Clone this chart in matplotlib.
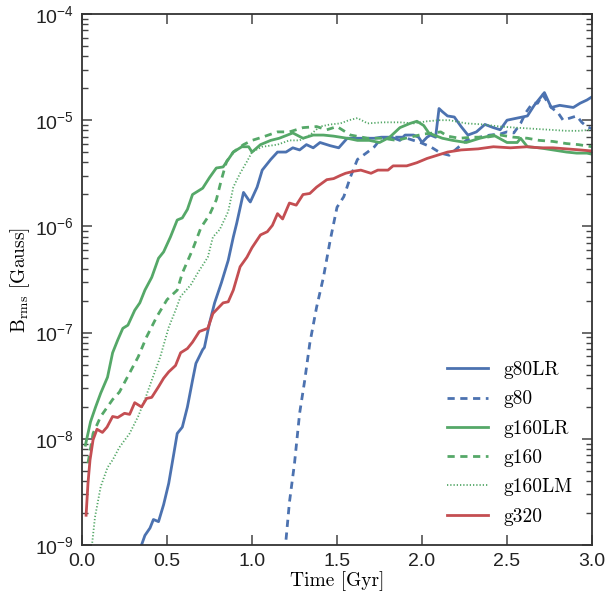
import numpy as np
import matplotlib
matplotlib.use("Agg")
import matplotlib.pyplot as plt

plt.rcParams["font.family"] = "Liberation Sans"
plt.rcParams["mathtext.fontset"] = "custom"
plt.rcParams["mathtext.rm"] = "Liberation Sans"
plt.rcParams["mathtext.it"] = "Liberation Sans:italic"
plt.rcParams["mathtext.bf"] = "Liberation Sans:bold"
plt.rcParams["axes.unicode_minus"] = False

# ------------------------------------------------------------
# Data (time in Gyr, log10 of B in Gauss)
# ------------------------------------------------------------
t_g80lr = [0.35, 0.37, 0.40, 0.42, 0.45, 0.48, 0.51, 0.54, 0.56, 0.59, 0.62,
           0.65, 0.67, 0.71, 0.72, 0.75, 0.78, 0.82, 0.86, 0.89, 0.91, 0.95,
           0.98, 0.99, 1.03, 1.06, 1.11, 1.15, 1.20, 1.24, 1.28, 1.32, 1.36,
           1.40, 1.46, 1.51, 1.56, 1.64, 1.72, 1.76, 1.82, 1.87, 1.90, 1.95,
           1.98, 2.00, 2.03, 2.05, 2.08, 2.10, 2.12, 2.15, 2.19, 2.23, 2.27,
           2.32, 2.37, 2.42, 2.46, 2.50, 2.56, 2.62, 2.66, 2.72, 2.76, 2.81,
           2.89, 2.93, 2.97, 3.00]
lb_g80lr = [-9.00, -8.91, -8.84, -8.76, -8.78, -8.62, -8.42, -8.14, -7.95, -7.89,
            -7.70, -7.45, -7.29, -7.16, -7.14, -6.91, -6.72, -6.53, -6.32, -6.10,
            -5.97, -5.68, -5.75, -5.77, -5.63, -5.47, -5.37, -5.30, -5.30, -5.26,
            -5.28, -5.23, -5.26, -5.21, -5.24, -5.26, -5.17, -5.17, -5.17, -5.16,
            -5.16, -5.19, -5.14, -5.14, -5.16, -5.21, -5.16, -5.14, -5.16, -4.89,
            -4.92, -4.96, -4.97, -5.06, -5.14, -5.11, -5.04, -5.07, -5.09, -5.00,
            -4.98, -4.96, -4.86, -4.74, -4.88, -4.86, -4.88, -4.84, -4.81, -4.78]

t_g80 = [1.20, 1.22, 1.25, 1.28, 1.31, 1.34, 1.38, 1.42, 1.46, 1.50, 1.54,
         1.58, 1.62, 1.68, 1.72, 1.75, 1.82, 1.89, 1.95, 1.99, 2.05, 2.11,
         2.16, 2.21, 2.26, 2.34, 2.40, 2.46, 2.50, 2.54, 2.58, 2.61, 2.65,
         2.68, 2.71, 2.76, 2.80, 2.83, 2.87, 2.91, 2.94, 2.97, 3.00]
lb_g80 = [-8.95, -8.60, -8.23, -7.76, -7.45, -7.10, -6.76, -6.48, -6.13, -5.82,
          -5.72, -5.53, -5.37, -5.30, -5.25, -5.19, -5.16, -5.16, -5.19, -5.21,
          -5.25, -5.31, -5.33, -5.26, -5.19, -5.16, -5.14, -5.13, -5.11, -5.12,
          -5.03, -4.93, -4.84, -4.84, -4.76, -4.88, -4.93, -5.00, -4.98, -4.96,
          -5.02, -5.06, -5.08]

t_g160lr = [0.02, 0.05, 0.08, 0.11, 0.15, 0.18, 0.21, 0.24, 0.27, 0.31, 0.34,
            0.37, 0.41, 0.45, 0.48, 0.52, 0.56, 0.59, 0.62, 0.65, 0.71, 0.75,
            0.79, 0.83, 0.89, 0.94, 0.98, 1.00, 1.05, 1.11, 1.16, 1.24, 1.30,
            1.36, 1.42, 1.48, 1.56, 1.62, 1.69, 1.75, 1.81, 1.87, 1.93, 1.97,
            2.01, 2.04, 2.07, 2.12, 2.18, 2.26, 2.34, 2.42, 2.50, 2.56, 2.58,
            2.62, 2.69, 2.77, 2.85, 2.91, 2.97, 3.00]
lb_g160lr = [-8.06, -7.84, -7.70, -7.57, -7.42, -7.19, -7.07, -6.96, -6.93, -6.79,
             -6.72, -6.60, -6.48, -6.30, -6.24, -6.10, -5.94, -5.92, -5.84, -5.70,
             -5.64, -5.54, -5.45, -5.44, -5.30, -5.25, -5.25, -5.30, -5.23, -5.19,
             -5.17, -5.12, -5.17, -5.14, -5.14, -5.15, -5.17, -5.19, -5.19, -5.21,
             -5.16, -5.07, -5.03, -5.01, -5.05, -5.12, -5.14, -5.17, -5.19, -5.21,
             -5.17, -5.14, -5.21, -5.21, -5.17, -5.25, -5.26, -5.28, -5.30, -5.31,
             -5.31, -5.32]

t_g160 = [0.035, 0.065, 0.11, 0.18, 0.22, 0.28, 0.33, 0.38, 0.44, 0.50, 0.56,
          0.59, 0.65, 0.70, 0.75, 0.79, 0.82, 0.85, 0.89, 0.95, 1.00, 1.06,
          1.15, 1.22, 1.30, 1.38, 1.44, 1.50, 1.58, 1.68, 1.77, 1.85, 1.93,
          2.01, 2.07, 2.11, 2.15, 2.22, 2.30, 2.38, 2.46, 2.54, 2.62, 2.69,
          2.77, 2.85, 2.92, 3.00]
lb_g160 = [-8.23, -7.95, -7.79, -7.63, -7.56, -7.38, -7.23, -7.04, -6.85, -6.69,
           -6.60, -6.44, -6.22, -6.01, -5.89, -5.75, -5.56, -5.39, -5.30, -5.23,
           -5.19, -5.16, -5.11, -5.11, -5.07, -5.06, -5.09, -5.06, -5.14, -5.17,
           -5.17, -5.19, -5.16, -5.13, -5.12, -5.11, -5.15, -5.17, -5.16, -5.16,
           -5.14, -5.16, -5.17, -5.19, -5.20, -5.22, -5.23, -5.25]

t_g160lm = [0.06, 0.076, 0.11, 0.15, 0.18, 0.22, 0.28, 0.33, 0.37, 0.41, 0.46,
            0.51, 0.55, 0.58, 0.64, 0.68, 0.74, 0.77, 0.81, 0.86, 0.89, 0.93,
            0.97, 1.00, 1.06, 1.15, 1.22, 1.28, 1.34, 1.40, 1.46, 1.52, 1.57,
            1.62, 1.68, 1.77, 1.87, 1.95, 2.03, 2.10, 2.16, 2.26, 2.36, 2.46,
            2.55, 2.65, 2.75, 2.85, 2.92, 3.00]
lb_g160lm = [-8.98, -8.74, -8.45, -8.27, -8.20, -8.08, -7.95, -7.79, -7.63, -7.45,
             -7.23, -6.95, -6.79, -6.66, -6.55, -6.44, -6.29, -6.10, -6.03, -5.86,
             -5.63, -5.50, -5.39, -5.30, -5.25, -5.23, -5.19, -5.19, -5.14, -5.06,
             -5.04, -5.03, -5.00, -4.98, -5.03, -5.02, -5.02, -5.03, -5.01, -5.00,
             -5.00, -5.03, -5.04, -5.06, -5.07, -5.08, -5.09, -5.10, -5.10, -5.09]

t_g320 = [0.024, 0.035, 0.047, 0.065, 0.088, 0.12, 0.147, 0.18, 0.21, 0.25,
          0.28, 0.31, 0.35, 0.38, 0.41, 0.45, 0.48, 0.51, 0.55, 0.58, 0.62,
          0.65, 0.69, 0.74, 0.77, 0.83, 0.86, 0.89, 0.93, 0.97, 1.00, 1.05,
          1.09, 1.12, 1.15, 1.18, 1.22, 1.26, 1.30, 1.34, 1.38, 1.44, 1.48,
          1.52, 1.55, 1.60, 1.64, 1.70, 1.74, 1.80, 1.83, 1.91, 1.97, 2.03,
          2.09, 2.15, 2.23, 2.33, 2.42, 2.52, 2.62, 2.69, 2.77, 2.85, 2.93,
          3.00]
lb_g320 = [-8.72, -8.42, -8.20, -8.01, -7.91, -7.94, -7.89, -7.79, -7.80, -7.76,
           -7.77, -7.66, -7.70, -7.62, -7.61, -7.51, -7.43, -7.37, -7.31, -7.19,
           -7.15, -7.09, -6.99, -6.96, -6.82, -6.72, -6.71, -6.60, -6.38, -6.29,
           -6.20, -6.08, -6.05, -5.99, -5.88, -5.93, -5.78, -5.80, -5.70, -5.69,
           -5.63, -5.56, -5.55, -5.52, -5.50, -5.48, -5.47, -5.50, -5.47, -5.47,
           -5.43, -5.43, -5.40, -5.36, -5.33, -5.30, -5.28, -5.27, -5.25, -5.26,
           -5.25, -5.26, -5.26, -5.27, -5.28, -5.29]

labels = ["g80LR", "g80", "g160LR", "g160", "g160LM", "g320"]
times = [t_g80lr, t_g80, t_g160lr, t_g160, t_g160lm, t_g320]
logs = [lb_g80lr, lb_g80, lb_g160lr, lb_g160, lb_g160lm, lb_g320]

blue, green, red = "#4C72B0", "#55A868", "#C44E52"
colors = [blue, blue, green, green, green, red]
styles = ["-", (0, (2.6, 2.0)), "-", (0, (2.6, 2.0)), (0, (0.7, 1.1)), "-"]
widths = [2.0, 2.0, 2.0, 2.0, 1.3, 2.0]

fig = plt.figure(figsize=(6.08, 5.96), dpi=100)
ax = fig.add_axes([0.1349, 0.0856, 0.8388, 0.8909])

for t, lb, lab, c, ls, lw in zip(times, logs, labels, colors, styles, widths):
    ax.plot(t, 10.0 ** np.array(lb), color=c, ls=ls, lw=lw, label=lab)

ax.set_yscale("log")
ax.set_xlim(0, 3.0)
ax.set_ylim(1e-9, 1e-4)
ax.set_xticks([0.0, 0.5, 1.0, 1.5, 2.0, 2.5, 3.0])
ax.set_xticklabels(["0.0", "0.5", "1.0", "1.5", "2.0", "2.5", "3.0"])

for s in ax.spines.values():
    s.set_color("#333333")
    s.set_linewidth(1.3)
ax.tick_params(which="both", direction="in", top=True, right=True,
               colors="#444444", labelcolor="#222222", labelsize=14, pad=6)
ax.tick_params(which="major", length=7, width=1.1)
ax.tick_params(which="minor", length=4, width=1.0)

ax.set_xlabel("Time [Gyr]", fontfamily="cmr10", fontsize=14, labelpad=1)
ax.set_ylabel(r"$\mathrm{B_{rms}}$ [Gauss]", fontfamily="cmr10",
              math_fontfamily="cm", fontsize=14, labelpad=2)

ax.legend(loc="lower right", frameon=False, prop={"family": "cmr10", "size": 14},
          handlelength=2.1, handletextpad=0.8, labelspacing=0.58,
          borderaxespad=0.6)

fig.savefig("out.png", dpi=100)
